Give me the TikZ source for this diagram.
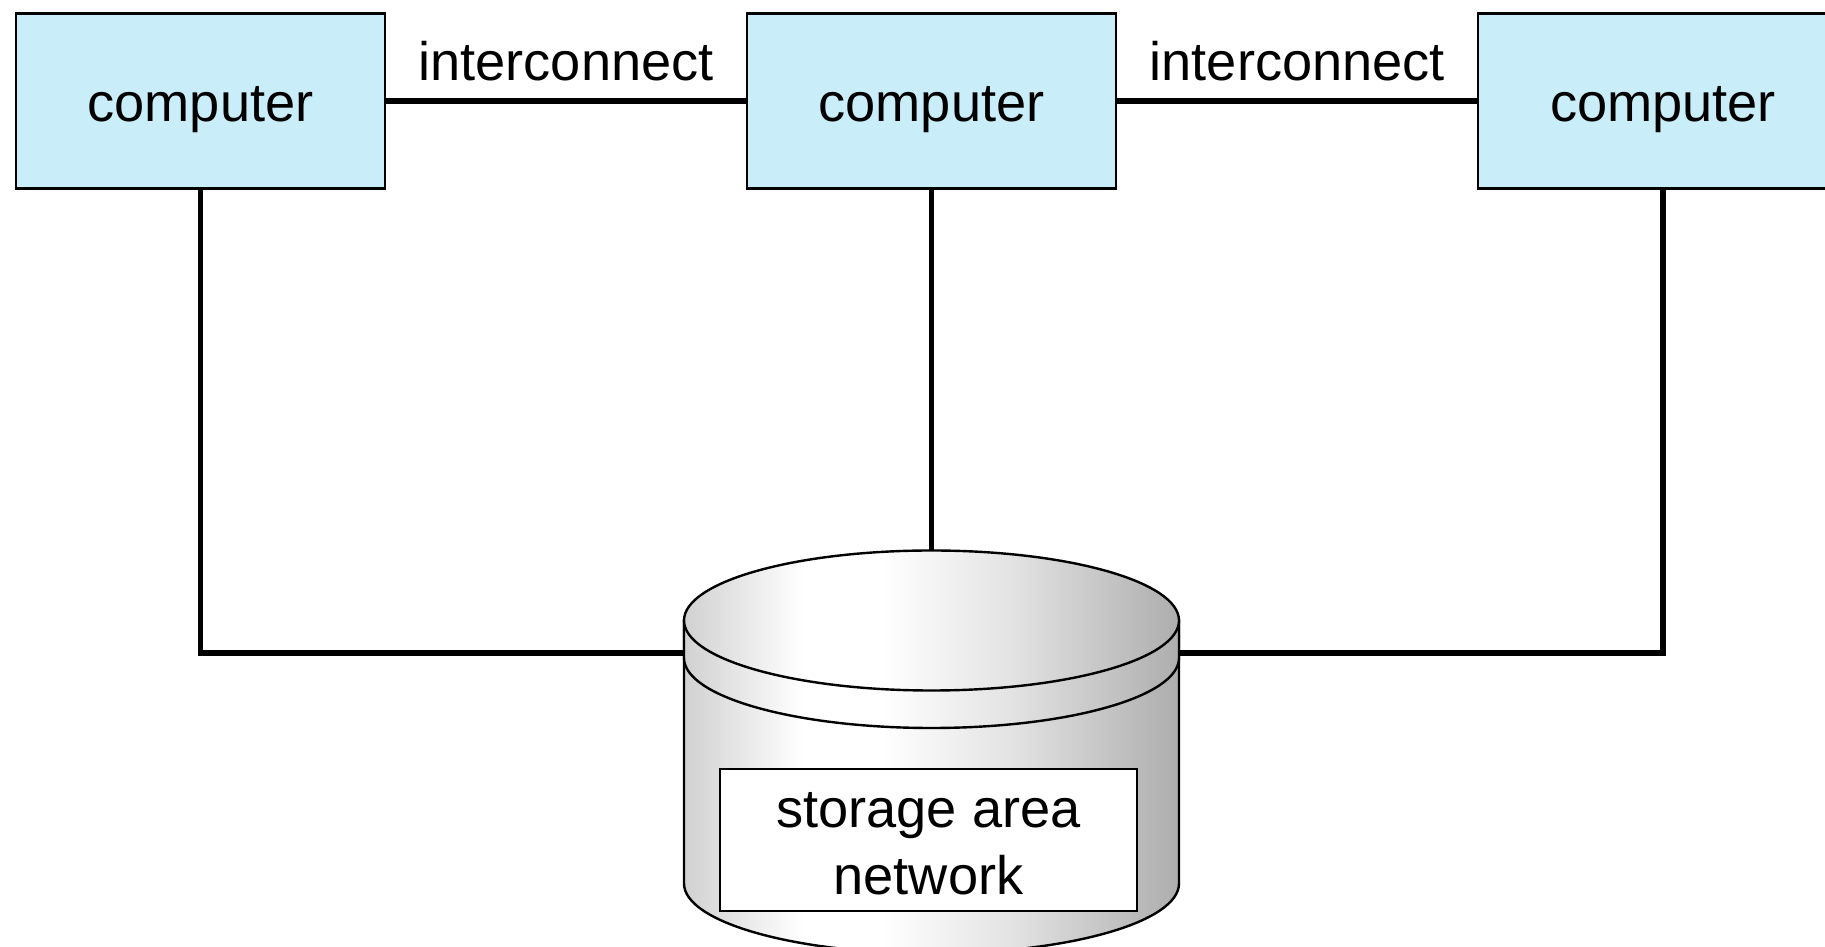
\documentclass[tikz,border=0pt]{standalone}
\usepackage{fontspec}
\setmainfont{Liberation Sans}
\usetikzlibrary{positioning,shadings}
\definecolor{compblue}{HTML}{C9EDF9}
\pgfdeclarehorizontalshading{diskshade}{100bp}{color(0bp)=(black!18);color(25bp)=(black!18);color(37bp)=(white);color(45bp)=(white);color(58bp)=(black!11);color(75bp)=(black!32);color(100bp)=(black!32)}
\tikzset{comp/.style={draw=black,line width=2.4pt,fill=compblue,minimum width=369.5pt,minimum height=175pt,inner sep=0pt,text height=53pt,text depth=11.4pt,font=\fontsize{54.2}{65}\selectfont}}
\tikzset{wire/.style={line width=5.6pt}}
\tikzset{wirelabel/.style={above=17pt,inner sep=0pt,font=\fontsize{54.2}{65}\selectfont}}
\tikzset{diskpart/.style={draw=black,line width=2.4pt,shading=diskshade}}

\begin{document}
\begin{tikzpicture}[x=1pt,y=1pt]
\clip (0,0) rectangle (1825,947);
\node (c1) [comp] at (200.5,846) {computer};
\node (c2) [comp] at (931.5,846) {computer};
\node (c3) [comp] at (1663,846) {computer};
\coordinate (dl) at (684,294);
\coordinate (dr) at (1179,294);
\coordinate (dt) at (931.5,397);
%
\path[wire](c1) edge node[wirelabel] {interconnect} (c2);
\path[wire](c2) edge node[wirelabel] {interconnect} (c3);
\draw[wire,line join=miter](c1.south) |- (dl);
\draw[wire](c2.south) -- (dt);
\draw[wire,line join=miter](c3.south) |- (dr);
% disk
\path[diskpart] (684,326.5) -- (684,63.5) arc[start angle=180,end angle=360,x radius=247.5pt,y radius=70pt] -- (1179,326.5) -- cycle;
\path[diskpart] (684,326.5) -- (684,289) arc[start angle=180,end angle=360,x radius=247.5pt,y radius=70pt] -- (1179,326.5) -- cycle;
\path[diskpart] (931.5,326.5) ellipse [x radius=247.5pt,y radius=70pt];
\node (san) [draw=black,line width=2.4pt,fill=white,minimum width=417pt,minimum height=142pt,inner sep=0pt,align=center,font=\fontsize{54.2}{65}\selectfont] at (928.5,107) {\raisebox{-2.5pt}[\height][\depth]{storage area}\\\raisebox{-5pt}[\height][\depth]{network}};
\end{tikzpicture}
\end{document}
